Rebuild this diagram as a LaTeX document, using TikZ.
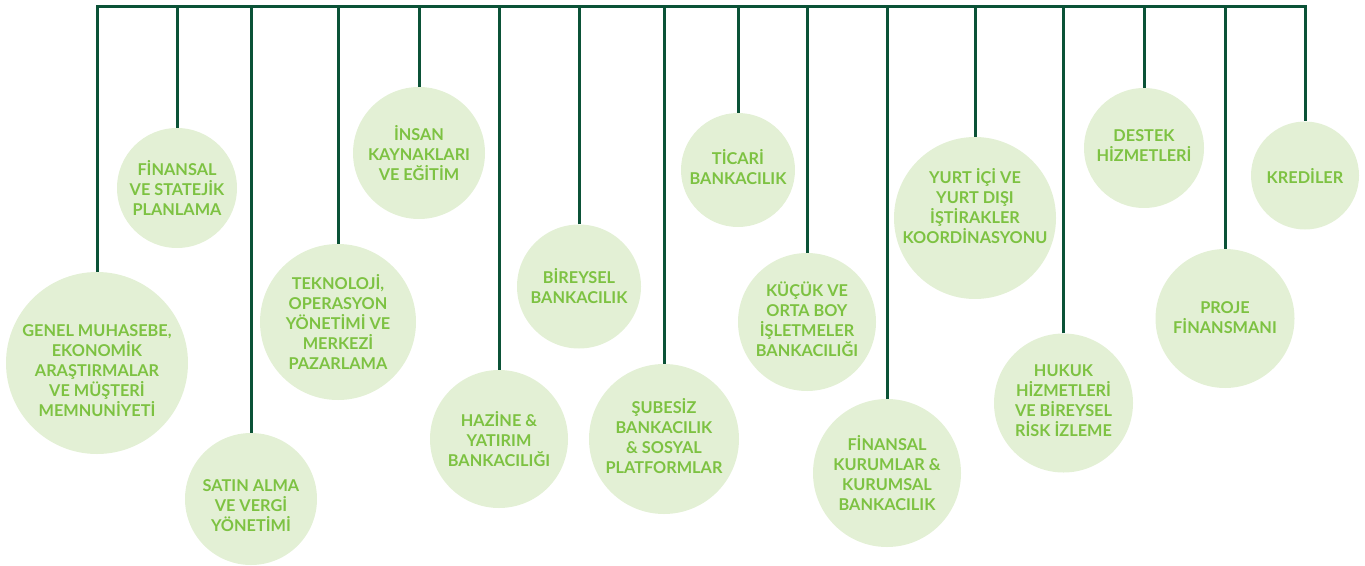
\documentclass[tikz,border=0pt]{standalone}
\usepackage{fontspec}
\setmainfont{Lato}
\definecolor{linegreen}{HTML}{0B5237}
\definecolor{txtgreen}{HTML}{7DC242}
\definecolor{fillgreen}{HTML}{E3F0D5}
\begin{document}
\begin{tikzpicture}[x=1pt,y=-1pt,
  circ/.style={circle,fill=fillgreen,draw=none,inner sep=0pt,minimum size=#1},
  txt/.style={align=center,text=txtgreen,font=\fontsize{16.3}{20}\selectfont\bfseries,inner sep=0pt},
  conn/.style={draw=linegreen,line width=3pt,line join=miter,line cap=butt}]
\useasboundingbox (0,0) rectangle (1365,565);
% circles
\node[circ=182] (n1) at (97,363) {};
\node[circ=120] (n2) at (177,188) {};
\node[circ=132] (n3) at (251,499) {};
\node[circ=156] (n4) at (338,322) {};
\node[circ=132] (n5) at (419,153) {};
\node[circ=138] (n6) at (499,439) {};
\node[circ=124] (n7) at (579,286.5) {};
\node[circ=150] (n8) at (664,439) {};
\node[circ=114] (n9) at (738,170) {};
\node[circ=138] (n10) at (807,322) {};
\node[circ=148] (n11) at (887,473) {};
\node[circ=162] (n12) at (975,218) {};
\node[circ=139] (n13) at (1063.5,403) {};
\node[circ=120] (n14) at (1144,148) {};
\node[circ=139] (n15) at (1225,318.5) {};
\node[circ=108] (n16) at (1305,175.5) {};
% bar coordinates
\coordinate (b1) at (97,6);
\coordinate (b16) at (1305,6);
% connectors
\draw[conn] (n1.north) -- (b1) -- (b16) -- (n16.north);
\foreach \i in {2,...,15}{
  \draw[conn] (n\i.north) -- (n\i.north |- b1);
}
% texts (yshift is in canvas units: negative = down)
\node[txt] (t1) at ([yshift=-8pt]n1.center) {GENEL MUHASEBE,\\EKONOMİK\\ARAŞTIRMALAR\\VE MÜŞTERİ\\MEMNUNİYETİ};
\node[txt] (t2) at (n2.center) {FİNANSAL\\VE STATEJİK\\PLANLAMA};
\node[txt] (t3) at ([yshift=-7pt]n3.center) {SATIN ALMA\\VE VERGİ\\YÖNETİMİ};
\node[txt] (t4) at (n4.center) {TEKNOLOJİ,\\OPERASYON\\YÖNETİMİ VE\\MERKEZİ\\PAZARLAMA};
\node[txt] (t5) at (n5.center) {İNSAN\\KAYNAKLARI\\VE EĞİTİM};
\node[txt] (t6) at (n6.center) {HAZİNE \&\\YATIRIM\\BANKACILIĞI};
\node[txt] (t7) at (n7.center) {BİREYSEL\\BANKACILIK};
\node[txt] (t8) at ([yshift=3pt]n8.center) {ŞUBESİZ\\BANKACILIK\\\& SOSYAL\\PLATFORMLAR};
\node[txt] (t9) at ([yshift=3pt]n9.center) {TİCARİ\\BANKACILIK};
\node[txt] (t10) at ([yshift=3pt]n10.center) {KÜÇÜK VE\\ORTA BOY\\İŞLETMELER\\BANKACILIĞI};
\node[txt] (t11) at (n11.center) {FİNANSAL\\KURUMLAR \&\\KURUMSAL\\BANKACILIK};
\node[txt] (t12) at ([yshift=12pt]n12.center) {YURT İÇİ VE\\YURT DIŞI\\İŞTİRAKLER\\KOORDİNASYONU};
\node[txt] (t13) at ([yshift=2pt]n13.center) {HUKUK\\HİZMETLERİ\\VE BİREYSEL\\RİSK İZLEME};
\node[txt] (t14) at ([yshift=2pt]n14.center) {DESTEK\\HİZMETLERİ};
\node[txt] (t15) at ([yshift=1pt]n15.center) {PROJE\\FİNANSMANI};
\node[txt] (t16) at (n16.center) {KREDİLER};
\end{tikzpicture}
\end{document}
